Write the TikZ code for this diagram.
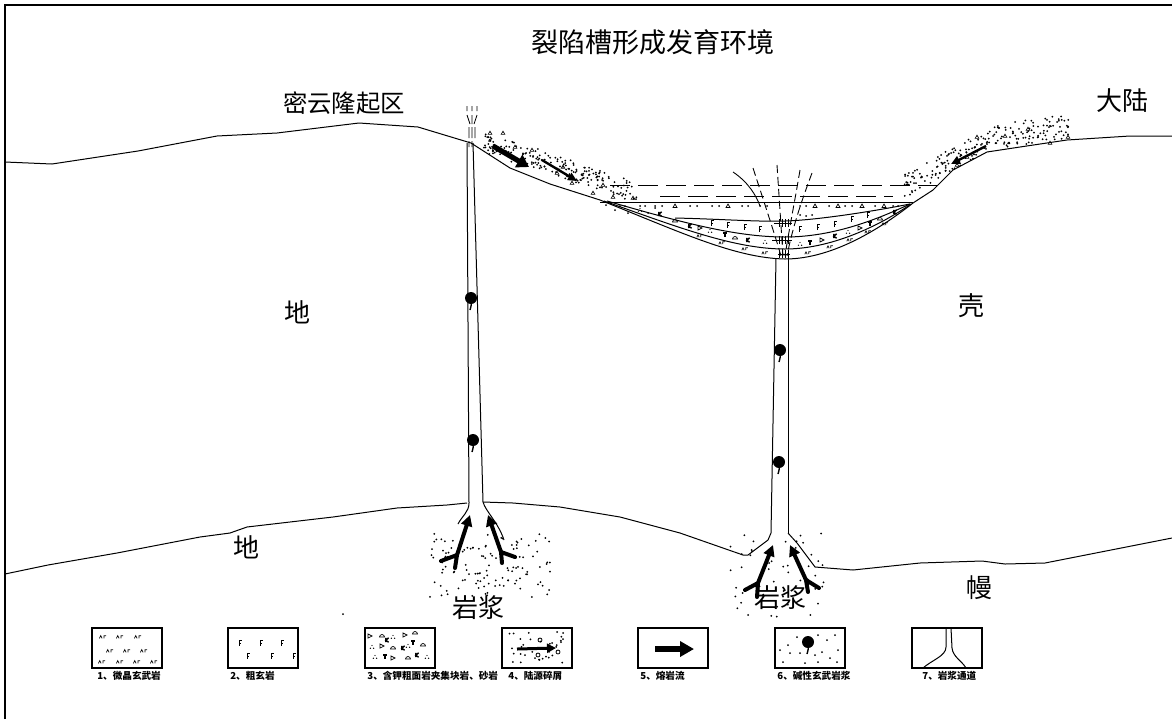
\documentclass[tikz,border=0pt]{standalone}
\usepackage{fontspec}
\setmainfont{Noto Sans CJK SC}
\usetikzlibrary{arrows.meta}
\begin{document}
\begin{tikzpicture}[x=0.5pt,y=-0.5pt,
  thinline/.style={line width=0.5pt},
  big/.style={font=\fontsize{13}{13}\selectfont, inner sep=0},
  legbox/.style={draw, line width=0.55pt, minimum width=35pt, minimum height=20pt, inner sep=0},
  legtext/.style={font=\fontsize{4.8}{5}\selectfont\bfseries, anchor=west, inner sep=0},
  bigflow/.style={line width=2.6pt, -{Triangle[length=6pt,width=7pt]}},
  flow/.style={line width=1.2pt, -{Triangle[length=4.5pt,width=4pt]}},
  rise/.style={line width=2pt, -{Triangle[length=5.5pt,width=5.5pt]}},
  fork/.style={line width=2pt, line cap=round, line join=round},
  vent/.style={line width=0.45pt, dash pattern=on 4pt off 2pt},
  lake/.style={line width=0.5pt, dash pattern=on 10pt off 4pt},
  mbs/.pic={\draw[line width=0.35pt] (-4,1.5)--(-2.5,-1.5)--(-1,1.5) (1,1.5)--(1,-1.5)--(3.5,-1.5);},
  tri/.pic={\draw[line width=0.35pt] (-2,1.5)--(0,-2)--(2,1.5)--cycle;},
  rtri/.pic={\draw[line width=0.35pt] (-2,-2)--(2,0)--(-2,2)--cycle;},
  dome/.pic={\draw[line width=0.35pt] (-2.5,1) arc[start angle=180,end angle=360,radius=2.5] -- cycle;},
  ther/.pic={\fill (0,-1.5) circle (0.7) (-1.6,1.2) circle (0.7) (1.6,1.2) circle (0.7);},
  kk/.pic={\draw[line width=0.7pt] (-1.2,-2.2)--(-1.2,2.2) (1.6,-2.2)--(-1.2,0.3)--(1.6,2.2);},
  tt/.pic={\draw[line width=0.7pt] (-1.6,-2)--(1.6,-2) (0,-2)--(0,2.2);},
  ff/.pic={\draw[line width=0.4pt] (-1,2.5)--(-1,-2.5)--(1.6,-2.5) (-1,0)--(1.2,0);},
  ball/.pic={\fill (0,0) circle (6); \draw[line width=0.7pt] (0,4) .. controls (1,8) and (-1,10) .. (-1,12);},
  dot/.pic={\fill (0,0) circle (1.0);}
]
\useasboundingbox (0,0) rectangle (1172,719);

% frame
\draw[line width=1pt] (5,719) -- (5,5) -- (1172,5);

% ground surface with the trough
\draw[thinline] (5,162) -- (52,164) -- (138,151) -- (217,136) -- (277,133) -- (359,123) -- (418,127) -- (471,143)
  -- (510,168) -- (550,184) -- (600,200) .. controls (680,232) and (735,258) .. (785,259)
  .. controls (835,259) and (885,225) .. (913,203) -- (933,190) -- (953,170) -- (987,152)
  -- (1020,147) -- (1067,140) -- (1130,136) -- (1172,136);

% crust-mantle boundary
\draw[thinline] (5,574) -- (48,565) -- (117,553) -- (200,537) -- (230,533) -- (247,527) -- (333,517)
  -- (397,508) -- (447,505) -- (467,503);
\draw[thinline] (483,502) -- (513,503) -- (560,507) -- (620,517) -- (680,533) -- (743,555) -- (748,555)
  -- (768,540) -- (771,533);
\draw[thinline] (788,533) -- (797,543) -- (815,567) -- (853,570) -- (920,563) -- (982,561) -- (1005,564)
  -- (1045,563) -- (1172,538);

% conduits
\draw[thinline] (467,143) -- (469,503) .. controls (469,512) and (462,516) .. (458,524);
\draw[thinline] (473,143) -- (483,502) .. controls (486,512) and (498,522) .. (504,540);
\draw[thinline] (776,258) -- (771,533);
\draw[thinline] (788,258) -- (788,533);

% small vent above the left conduit
\draw[line width=0.4pt] (467,106)--(467,111) (472,106)--(472,111) (477,106)--(477,111)
  (467,115)--(470,124) (477,115)--(474,124) (472,115)--(472,124)
  (469,127)--(469,138) (472,127)--(472,138) (475,127)--(475,138)
  (469,141)--(469,147) (472,141)--(472,147);

% trough fill layers
\draw[thinline] (600,202) -- (913,202);
\draw[thinline] (604,201) .. controls (680,228) and (735,249) .. (785,249) .. controls (835,249) and (885,222) .. (911,204);
\draw[thinline] (607,201) .. controls (680,222) and (735,237) .. (785,237) .. controls (835,237) and (880,218) .. (910,204);
\draw[thinline] (675,218) .. controls (720,219) and (760,222) .. (785,221) .. controls (820,220) and (880,210) .. (910,204);

% lake water
\draw[lake] (610,185) -- (938,185);
\draw[lake] (660,196) -- (893,196);

% vent fan above the trough conduit
\draw[line width=0.45pt] (733,172) .. controls (748,182) and (756,195) .. (760,206);
\draw[vent] (753,168) .. controls (765,205) and (775,235) .. (781,256);
\draw[vent] (777,165) -- (783,256);
\draw[vent] (800,170) .. controls (795,200) and (789,230) .. (785,256);
\draw[vent] (812,173) .. controls (800,205) and (792,230) .. (787,256);
\draw[line width=0.4pt] (774,223)--(792,223) (772,240)--(792,240) (778,254)--(790,254);
\foreach \hx in {779,782,785,788} {
  \draw[line width=0.4pt] (\hx,219)--(\hx,227) (\hx,236)--(\hx,244) (\hx,250)--(\hx,258);
}

% layer 1: microcrystalline basalt
\foreach \a/\b in {700/236,722/243,745/249,765/253,808/253,830/247,850/240,868/232,885/224}
  \pic[scale=0.8] at (\a,\b) {mbs};
% layer 3: trachyte with agglomerate and sandstone
\foreach \a/\b in {660/214,690/226,748/240,835/236,895/212} \pic at (\a,\b) {kk};
\foreach \a/\b in {710/231,765/242,800/244,848/232,640/210} \pic at (\a,\b) {ther};
\foreach \a/\b in {725/235,810/243,870/224} \pic at (\a,\b) {tt};
\foreach \a/\b in {675/221,735/238,880/219} \pic at (\a,\b) {dome};
\foreach \a/\b in {822/240,860/228,700/228} \pic at (\a,\b) {rtri};
% layer 2: dolerite
\foreach \a/\b in {712/223,728/225,745/227,760/229,800/229,818/227,835/224,852/219,868/215}
  \pic at (\a,\b) {ff};
% layer 4: terrigenous clastics
\foreach \a in {620,625,640,645,655,662,690,697,712,719,742,748,760,767,800,806,829,845,852,875,893,898}
  \pic at (\a,206) {dot};
\foreach \a/\b in {606/205,615/210,628/213,648/213,800/215,806/216,812/215,655/208}
  \pic at (\a,\b) {dot};
\foreach \a in {675,728,815,838,862,884} \pic at (\a,206) {tri};

% talus fan on the left slope
\pgfmathsetseed{11}
\foreach \i in {1,...,200} {
  \pgfmathsetmacro\t{rnd}
  \pgfmathsetmacro\px{485+150*\t+3*rand}
  \pgfmathsetmacro\py{152+50*\t-20*rnd}
  \pic at (\px,\py) {dot};
}
\foreach \a/\b in {490/133,503/133,515/147,532/150,557/173,563/167,572/183,593/193,603/185,613/197,633/198}
  \pic[scale=0.9] at (\a,\b) {tri};
\draw[bigflow] (493,146) -- (529,167);
\draw[flow] (542,160) -- (577,181);

% talus fan on the right slope
\foreach \i in {1,...,210} {
  \pgfmathsetmacro\px{903+167*rnd}
  \pgfmathsetmacro\lo{max(200-(\px-905)*0.58,152-(\px-987)*0.15)}
  \pgfmathsetmacro\py{\lo-2-24*rnd}
  \pic at (\px,\py) {dot};
}
\foreach \a/\b in {1028/129,1068/137,977/137,967/157,957/165,1050/143,1005/136}
  \pic[scale=0.9] at (\a,\b) {tri};
\draw[flow] (986,146) -- (951,164);

% magma blobs in the conduits
\pic at (471,298) {ball};
\pic at (473,440) {ball};
\pic at (780,350) {ball};
\pic at (779,462) {ball};

% magma below the crust
\foreach \i in {1,...,120} {
  \pgfmathsetmacro\px{490+62*rand}
  \pgfmathsetmacro\py{565+32*rand}
  \pic at (\px,\py) {dot};
}
\foreach \i in {1,...,50} {
  \pgfmathsetmacro\px{778+50*rand}
  \pgfmathsetmacro\py{575+42*rand}
  \pic at (\px,\py) {dot};
}
\pic at (343,614) {dot};

% rising magma
\draw[rise] (457,555) -- (470,515);
\draw[fork] (441,561) -- (457,555) -- (455,568);
\draw[rise] (501,552) -- (488,515);
\draw[fork] (515,557) -- (501,552) -- (502,563);
\draw[rise] (758,583) -- (773,545);
\draw[fork] (745,590) -- (758,583) -- (757,597);
\draw[rise] (806,580) -- (790,545);
\draw[fork] (819,588) -- (806,580) -- (808,592);

% labels
\node[font=\fontsize{13.5}{14}\selectfont, inner sep=0] (title) at (653,42) {裂陷槽形成发育环境};
\node[font=\fontsize{12.2}{13}\selectfont, inner sep=0] (miyun) at (344,103) {密云隆起区};
\node[big] (dalu) at (1122,101) {大陆};
\node[big] (di1) at (297,312) {地};
\node[big] (qiao) at (971,306) {壳};
\node[big] (di2) at (246,547) {地};
\node[big] (man) at (979,588) {幔};
\node[big] (yj1) at (478,608) {岩浆};
\node[big] (yj2) at (780,598) {岩浆};

% legend
\node[legbox] (k1) at (127,648) {};
\node[legbox] (k2) at (263,648) {};
\node[legbox] (k3) at (400,648) {};
\node[legbox] (k4) at (537,648) {};
\node[legbox] (k5) at (673,648) {};
\node[legbox] (k6) at (810,648) {};
\node[legbox] (k7) at (947,648) {};

\foreach \a/\b in {103/637,120/637,138/637,110/651,127/651,144/651,102/662,120/662,137/662,154/662}
  \pic[scale=0.9] at (\a,\b) {mbs};
\foreach \a/\b in {240/643,261/643,282/643,248/656,272/656,294/656}
  \pic at (\a,\b) {ff};
\foreach \a/\b in {370/636,405/635,382/646,393/658} \pic at (\a,\b) {rtri};
\foreach \a/\b in {382/636,415/633,393/648,408/658,423/645} \pic at (\a,\b) {dome};
\foreach \a/\b in {387/640,403/648,417/655} \pic at (\a,\b) {kk};
\foreach \a/\b in {393/637,372/647,408/646,375/657,427/657} \pic at (\a,\b) {ther};
\foreach \a/\b in {413/643,385/657} \pic at (\a,\b) {tt};

\pgfmathsetseed{5}
\foreach \i in {1,...,36} {
  \pgfmathsetmacro\px{537+31*rand}
  \pgfmathsetmacro\py{648+16*rand}
  \pic at (\px,\py) {dot};
}
\draw[line width=0.4pt] (540,640) circle (2) (538,655) circle (2) (558,652) circle (2);
\draw[line width=1.5pt, -{Triangle[length=4.5pt,width=4.5pt]}] (517,649) -- (556,648);

\draw[line width=2.6pt, -{Triangle[length=7pt,width=7.5pt]}] (655,649) -- (694,649);

\foreach \a/\b in {788/645,797/637,818/635,827/640,835/635,790/653,800/653,815/655,822/652,830/658,838/650,783/662,805/663,818/662,837/662,780/650}
  \pic at (\a,\b) {dot};
\pic at (808,642) {ball};

\draw[thinline] (946,628) -- (946,647) .. controls (946,656) and (932,660) .. (923,668);
\draw[thinline] (951,628) -- (952,648) .. controls (953,657) and (962,661) .. (966,668);

\node[legtext] (t1) at (97,676) {1、微晶玄武岩};
\node[legtext] (t2) at (230,676) {2、粗玄岩};
\node[legtext] (t3) at (367,676) {3、含钾粗面岩夹集块岩、砂岩};
\node[legtext] (t4) at (508,676) {4、陆源碎屑};
\node[legtext] (t5) at (640,676) {5、熔岩流};
\node[legtext] (t6) at (777,676) {6、碱性玄武岩浆};
\node[legtext] (t7) at (922,676) {7、岩浆通道};
\end{tikzpicture}
\end{document}
